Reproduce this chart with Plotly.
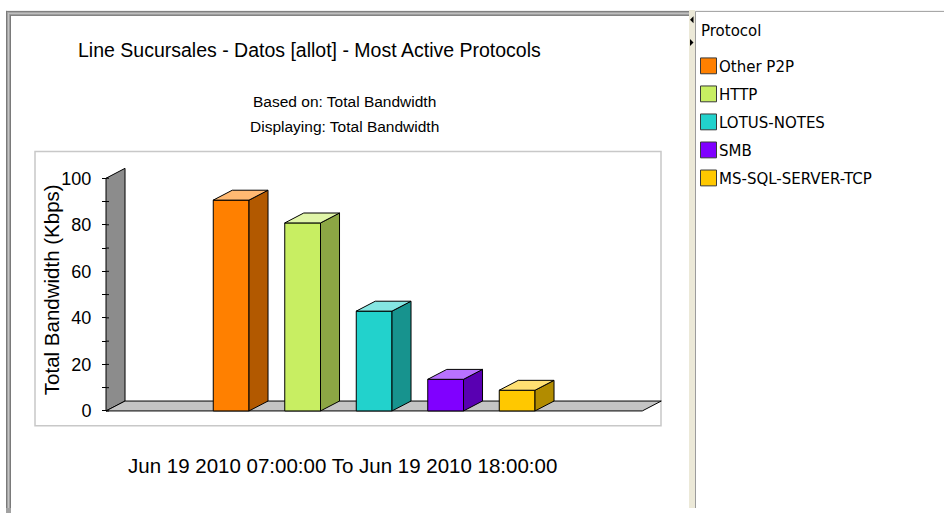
import plotly.graph_objects as go

# ---- data -------------------------------------------------------------
protocols = ["Other P2P", "HTTP", "LOTUS-NOTES", "SMB", "MS-SQL-SERVER-TCP"]
bandwidth_kbps = [90.6, 80.8, 42.9, 13.6, 8.9]
bar_colors = ["#FF8000", "#C8EE62", "#22D2CC", "#8000FF", "#FFC800"]
y_ticks = [0, 20, 40, 60, 80, 100]
y_minor_ticks = [10, 30, 50, 70, 90]

title = "Line Sucursales - Datos [allot] - Most Active Protocols"
subtitle = ["Based on: Total Bandwidth", "Displaying: Total Bandwidth"]
y_title = "Total Bandwidth (Kbps)"
period = "Jun 19 2010 07:00:00 To Jun 19 2010 18:00:00"
legend_title = "Protocol"

# ---- page geometry ------------------------------------------------------
W, H = 944, 513
FONT = "Liberation Sans, Arial, sans-serif"
LEG_FONT = "DejaVu Sans, Tahoma, sans-serif"


def px(x):
    return x / W


def py(y):
    return 1 - y / H


def shade(hex_color, k):
    r, g, b = (int(hex_color[i:i + 2], 16) for i in (1, 3, 5))
    return "#%02X%02X%02X" % (int(r * k), int(g * k), int(b * k))


def tint(hex_color, k):
    r, g, b = (int(hex_color[i:i + 2], 16) for i in (1, 3, 5))
    return "#%02X%02X%02X" % tuple(int(c + (255 - c) * k) for c in (r, g, b))


# pseudo-3D depth (data units) and layout of the category slots
positions = list(range(len(protocols)))
bar_w = 0.5
depth_x, depth_y = 0.266, 4.26
floor_x0, floor_x1 = -1.75, len(protocols) - 1 + 1.75
y_top = y_ticks[-1]

x_range = [-1.834, 6.054]
y_range = [-2.128, 105.96]
x_dom = [px(100), px(664)]
y_dom = [py(420), py(166)]
axis_px = 106

fig = go.Figure()

# front faces of the columns
fig.add_trace(go.Bar(
    x=positions, y=bandwidth_kbps, width=bar_w,
    marker=dict(color=bar_colors, line=dict(color="black", width=1)),
    showlegend=False, hoverinfo="skip",
))

# side and top faces of each column
for c, v, col in zip(positions, bandwidth_kbps, bar_colors):
    xr = c + bar_w / 2
    xl = c - bar_w / 2
    fig.add_trace(go.Scatter(
        x=[xr, xr + depth_x, xr + depth_x, xr, xr],
        y=[0, depth_y, v + depth_y, v, 0],
        mode="lines", fill="toself", fillcolor=shade(col, 0.7),
        line=dict(color="black", width=1), showlegend=False, hoverinfo="skip",
    ))
    fig.add_trace(go.Scatter(
        x=[xl, xr, xr + depth_x, xl + depth_x, xl],
        y=[v, v, v + depth_y, v + depth_y, v],
        mode="lines", fill="toself", fillcolor=tint(col, 0.45),
        line=dict(color="black", width=1), showlegend=False, hoverinfo="skip",
    ))

shapes = []

# back wall and floor of the 3D box
wall = (f"M{floor_x0},0 L{floor_x0},{y_top} L{floor_x0 + depth_x},{y_top + depth_y} "
        f"L{floor_x0 + depth_x},{depth_y} Z")
floor = (f"M{floor_x0},0 L{floor_x1},0 L{floor_x1 + depth_x},{depth_y} "
         f"L{floor_x0 + depth_x},{depth_y} Z")
shapes.append(dict(type="path", xref="x", yref="y", path=wall, layer="below",
                   fillcolor="#8C8C8C", line=dict(color="black", width=1)))
shapes.append(dict(type="path", xref="x", yref="y", path=floor, layer="below",
                   fillcolor="#C4C4C4", line=dict(color="black", width=1)))

# tick marks cross the wall's front edge: the inner half of each tick
for t in y_ticks + y_minor_ticks:
    shapes.append(dict(type="line", xref="paper", yref="y",
                       x0=px(axis_px), x1=px(axis_px + 3), y0=t, y1=t,
                       line=dict(color="black", width=1)))

# chart frame
shapes.append(dict(type="rect", xref="paper", yref="paper",
                   x0=px(35), x1=px(661), y0=py(430), y1=py(153),
                   line=dict(color="#C8C8C8", width=1.5), layer="below"))

# window chrome: main panel border
shapes.append(dict(type="rect", xref="paper", yref="paper",
                   x0=px(6), x1=px(689), y0=py(16), y1=py(11),
                   fillcolor="#A2A2A2", line=dict(width=0)))
shapes.append(dict(type="rect", xref="paper", yref="paper",
                   x0=px(6), x1=px(11), y0=py(H + 5), y1=py(11),
                   fillcolor="#A2A2A2", line=dict(width=0)))
for (x0, y0, x1, y1, c) in [
    (6, 11.5, 689, 11.5, "#7A7A7A"), (11, 15.5, 689, 15.5, "#7A7A7A"),
    (6.5, 11, 6.5, H, "#7A7A7A"), (10.5, 15, 10.5, H, "#7A7A7A"),
    (8, 13.5, 689, 13.5, "#C4C4C4"), (8.5, 13, 8.5, H, "#C4C4C4"),
]:
    shapes.append(dict(type="line", xref="paper", yref="paper",
                       x0=px(x0), x1=px(x1), y0=py(y0), y1=py(y1),
                       line=dict(color=c, width=1)))

# splitter between chart and legend panels
shapes.append(dict(type="rect", xref="paper", yref="paper",
                   x0=px(689), x1=px(695), y0=py(H), y1=py(10),
                   fillcolor="#ECE9D8", line=dict(width=0)))
shapes.append(dict(type="path", xref="paper", yref="paper",
                   path=f"M{px(693.5)},{py(16.5)} L{px(693.5)},{py(23.5)} L{px(690)},{py(20)} Z",
                   fillcolor="black", line=dict(width=0)))
shapes.append(dict(type="path", xref="paper", yref="paper",
                   path=f"M{px(690)},{py(39.5)} L{px(690)},{py(46.5)} L{px(693.5)},{py(43)} Z",
                   fillcolor="black", line=dict(width=0)))
shapes.append(dict(type="line", xref="paper", yref="paper",
                   x0=px(695.5), x1=px(695.5), y0=py(H), y1=py(11.5),
                   line=dict(color="#9C9C9C", width=1)))
shapes.append(dict(type="line", xref="paper", yref="paper",
                   x0=px(695.5), x1=px(W), y0=py(11.5), y1=py(11.5),
                   line=dict(color="#9C9C9C", width=1)))

annotations = [
    dict(text=title, x=px(309), y=py(50), xref="paper", yref="paper",
         showarrow=False, xanchor="center", yanchor="middle",
         font=dict(family=FONT, size=19.5, color="black")),
    dict(text=subtitle[0], x=px(344), y=py(103), xref="paper", yref="paper",
         showarrow=False, xanchor="center", yanchor="middle",
         font=dict(family=FONT, size=15.5, color="black")),
    dict(text=subtitle[1], x=px(344), y=py(128), xref="paper", yref="paper",
         showarrow=False, xanchor="center", yanchor="middle",
         font=dict(family=FONT, size=15.5, color="black")),
    dict(text=y_title, x=px(51), y=py(293), xref="paper", yref="paper",
         showarrow=False, xanchor="center", yanchor="middle", textangle=-90,
         font=dict(family=FONT, size=20.5, color="black")),
    dict(text=period, x=px(342), y=py(470), xref="paper", yref="paper",
         showarrow=False, xanchor="center", yanchor="middle",
         font=dict(family=FONT, size=20.5, color="black")),
    dict(text=legend_title, x=px(699), y=py(31), xref="paper", yref="paper",
         showarrow=False, xanchor="left", yanchor="middle",
         font=dict(family=LEG_FONT, size=15, color="black")),
]

# legend panel: swatch + label per protocol
row0, row_step = 68, 28.3
for i, (name, col) in enumerate(zip(protocols, bar_colors)):
    yc = row0 + i * row_step
    shapes.append(dict(type="rect", xref="paper", yref="paper",
                       x0=px(700.5), x1=px(716.5), y0=py(yc + 6.5), y1=py(yc - 9.5),
                       fillcolor=col, line=dict(color="#3A3A3A", width=1)))
    annotations.append(dict(text=name, x=px(717), y=py(yc), xref="paper", yref="paper",
                            showarrow=False, xanchor="left", yanchor="middle",
                            font=dict(family=LEG_FONT, size=15, color="black")))

fig.update_layout(
    width=W, height=H,
    margin=dict(l=0, r=0, t=0, b=0),
    paper_bgcolor="white", plot_bgcolor="rgba(0,0,0,0)",
    showlegend=False,
    xaxis=dict(domain=x_dom, range=x_range, visible=False, fixedrange=True),
    yaxis=dict(domain=y_dom, range=y_range, anchor="free", position=px(axis_px),
               showgrid=False, zeroline=False, showline=False,
               tickmode="array", tickvals=y_ticks,
               ticks="outside", ticklen=4, tickwidth=1, tickcolor="black",
               ticklabelstandoff=7,
               minor=dict(tickvals=y_minor_ticks, ticks="outside", ticklen=4,
                          tickwidth=1, tickcolor="black", showgrid=False),
               tickfont=dict(family=FONT, size=18, color="black"),
               fixedrange=True),
    shapes=shapes,
    annotations=annotations,
)

fig.write_html("out.html")
